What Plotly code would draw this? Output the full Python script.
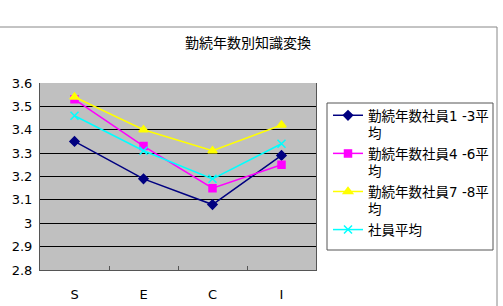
import plotly.graph_objects as go

title = "勤続年数別知識変換"
categories = ["S", "E", "C", "I"]
series_names = ["勤続年数社員1 -3平<br>均", "勤続年数社員4 -6平<br>均", "勤続年数社員7 -8平<br>均", "社員平均"]
s1 = [3.35, 3.19, 3.08, 3.29]
s2 = [3.53, 3.33, 3.15, 3.25]
s3 = [3.54, 3.40, 3.31, 3.42]
s4 = [3.46, 3.31, 3.19, 3.34]
y_ticks = [2.8, 2.9, 3.0, 3.1, 3.2, 3.3, 3.4, 3.5, 3.6]
y_tick_text = ["2.8", "2.9", "3", "3.1", "3.2", "3.3", "3.4", "3.5", "3.6"]

colors = ["#000080", "#FF00FF", "#FFFF00", "#00FFFF"]
symbols = ["diamond", "square", "triangle-up", "x-thin"]
sizes = [7, 7, 8, 8]

FONT = "DejaVu Sans, Noto Sans CJK JP, sans-serif"

fig = go.Figure()
for i, (name, vals, c, sym, sz) in enumerate(zip(series_names, [s1, s2, s3, s4], colors, symbols, sizes)):
    fig.add_trace(go.Scatter(
        x=categories, y=vals, name=name, mode="lines+markers",
        legendgroup=f"g{i}",
        line=dict(color=c, width=1.5),
        marker=dict(color=c, symbol=sym, size=sz, line=dict(color=c, width=1.5)),
    ))

W, H = 503, 306
L, R, T, B = 40, 316, 83, 270
pw, ph = R - L, B - T

def px(x):
    return (x - L) / pw

def py(y):
    return (B - y) / ph

fig.update_layout(
    width=W, height=H,
    margin=dict(l=L, r=W - R, t=T, b=H - B, autoexpand=False),
    paper_bgcolor="white",
    plot_bgcolor="#C0C0C0",
    font=dict(family=FONT, size=13, color="black"),
    showlegend=True,
    legend=dict(
        x=px(328), y=py(100), xanchor="left", yanchor="top",
        bgcolor="rgba(0,0,0,0)", borderwidth=0,
        font=dict(family=FONT, size=13.5),
        tracegroupgap=0, itemwidth=30, valign="top",
    ),
    annotations=[dict(
        text=title, xref="paper", yref="paper", x=px(248), y=py(43),
        xanchor="center", yanchor="middle", showarrow=False,
        font=dict(family=FONT, size=14),
    )],
    shapes=[
        dict(type="rect", xref="paper", yref="paper",
             x0=px(-1), x1=px(497), y0=py(312), y1=py(27),
             line=dict(color="#888888", width=1), layer="below"),
        dict(type="rect", xref="paper", yref="paper",
             x0=px(327), x1=px(493), y0=py(250), y1=py(103),
             line=dict(color="#555555", width=1)),
    ],
)
fig.update_xaxes(
    type="category", range=[-0.5, 3.5], automargin=False,
    showgrid=False, showline=True, linecolor="#555555", linewidth=1, mirror=False,
    ticks="inside", tickson="boundaries", ticklen=4, tickcolor="#555555",
    tickfont=dict(family=FONT, size=13), ticklabelstandoff=12,
)
fig.update_yaxes(
    range=[2.8, 3.6], tickvals=y_ticks, ticktext=y_tick_text, automargin=False,
    showgrid=True, gridcolor="black", gridwidth=1,
    showline=True, linecolor="#555555", linewidth=1, mirror=True,
    ticks="", tickfont=dict(family=FONT, size=13), ticklabelstandoff=4,
    zeroline=False,
)

fig.write_html("out.html")
